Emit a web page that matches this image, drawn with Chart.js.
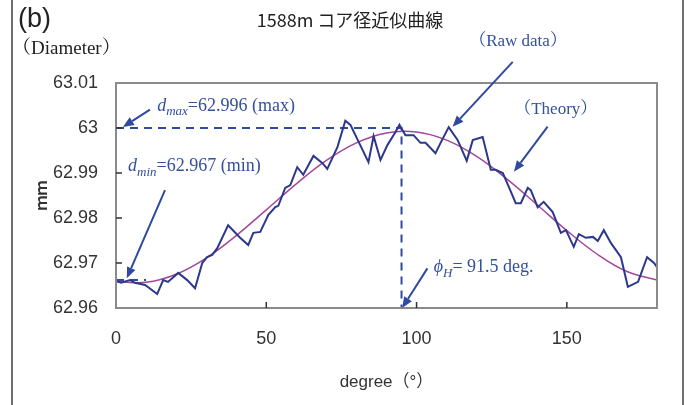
<!DOCTYPE html>
<html>
<head>
<meta charset="utf-8">
<script src="https://cdn.jsdelivr.net/npm/chart.js@4.4.0/dist/chart.umd.min.js"></script>
<style>
  html, body { margin: 0; padding: 0; background: #fff; }
</style>
</head>
<body>
<canvas id="coreChart" width="689" height="405"></canvas>
<script>
const rawDeg = [0, 1.7, 4.7, 6.3, 9.7, 13.7, 15.7, 17.3, 20.7, 23.7, 26.3, 28.7, 30.3, 32, 33.7, 37.3,
  41.3, 44, 45.7, 48, 50.7, 53, 54, 56.3, 58, 60.3, 62.3, 65.7, 68.7, 70.3, 73.7, 76.3, 78, 84, 85.7,
  88, 90.3, 93, 94.3, 96.3, 99, 101.3, 103, 106.3, 108, 110.7, 113.7, 116.7, 118.7, 122, 124.7, 126.3,
  128.7, 130.7, 133, 134.7, 137, 138, 140.3, 142.3, 145.3, 148, 149.7, 152.3, 154, 156.3, 158.7, 160.3,
  162.3, 164.7, 168, 170.3, 173.7, 176.7, 179, 180];
const rawMm = [62.9660, 62.9656, 62.9662, 62.9656, 62.9651, 62.9631, 62.9662, 62.9658, 62.9678, 62.9662,
  62.9644, 62.9700, 62.9713, 62.9718, 62.9733, 62.9784, 62.9756, 62.9740, 62.9767, 62.9769, 62.9807,
  62.9824, 62.9827, 62.9867, 62.9873, 62.9913, 62.9896, 62.9938, 62.9922, 62.9909, 62.9958, 63.0016,
  63.0007, 62.9924, 62.9982, 62.9929, 62.9962, 62.9991, 63.0007, 62.9984, 62.9984, 62.9967, 62.9967,
  62.9944, 62.9967, 63.0002, 62.9973, 62.9927, 62.9973, 62.9980, 62.9907, 62.9907, 62.9900, 62.9869,
  62.9833, 62.9833, 62.9867, 62.9862, 62.9824, 62.9836, 62.9813, 62.9767, 62.9773, 62.9736, 62.9764,
  62.9756, 62.9758, 62.9749, 62.9773, 62.9744, 62.9713, 62.9647, 62.9658, 62.9713, 62.9700, 62.9691];

// approximated (theory) curve, read every 10 degrees
const theoryDeg = [0, 10, 20, 30, 40, 50, 60, 70, 80, 90, 100, 110, 120, 130, 140, 150, 160, 170, 180];
const theoryMm = [62.9659, 62.9657, 62.9675, 62.9711, 62.9761, 62.9818, 62.9876, 62.9928, 62.9967,
  62.9989, 62.9991, 62.9973, 62.9937, 62.9887, 62.9830, 62.9772, 62.9720, 62.9681, 62.9662];

// dashed guide lines
const maxGuideDeg = [0, 95, 95];
const maxGuideMm = [63.0, 63.0, 62.96];
const minGuideDeg = [0, 10];
const minGuideMm = [62.9662, 62.9662];

const xTicks = [0, 50, 100, 150];
const yTicks = [62.96, 62.97, 62.98, 62.99, 63.0, 63.01];

const toPoints = (xs, ys) => xs.map((x, i) => ({ x: x, y: ys[i] }));

// annotation arrows and labels (data coordinates)
const arrows = [
  { from: [11.3, 63.0041], to: [2.3, 63.0002] },
  { from: [16.3, 62.9862], to: [3.6, 62.9666] },
  { from: [103.6, 62.9688], to: [95.2, 62.9600] },
  { from: [132, 63.0147], to: [112, 63.0003] },
  { from: [143.6, 63.0003], to: [132.4, 62.9903] }
];
const notes = [
  { x: 13.7, y: 63.0038, parts: [{ t: 'd', it: true }, { t: 'max', it: true, sub: true }, { t: '=62.996 (max)' }] },
  { x: 4, y: 62.9904, parts: [{ t: 'd', it: true }, { t: 'min', it: true, sub: true }, { t: '=62.967 (min)' }] },
  { x: 105.7, y: 62.9680, parts: [{ t: '\u03d5', it: true }, { t: 'H', it: true, sub: true }, { t: '= 91.5 deg.' }] },
  { x: 117.5, y: 63.0183, size: 17, parts: [{ t: '（Raw data）' }] },
  { x: 132.5, y: 63.0031, size: 17, parts: [{ t: '（Theory）' }] }
];

const blue = '#2f4a9e';
const serif = "'Liberation Serif', 'Noto Serif CJK JP', 'Noto Sans CJK JP', serif";

function drawRich(ctx, x, y, parts, size) {
  parts.forEach(p => {
    const s = p.sub ? Math.round(size * 0.7) : size;
    ctx.font = (p.it ? 'italic ' : '') + s + 'px ' + serif;
    ctx.fillText(p.t, x, y + (p.sub ? size * 0.25 : 0));
    x += ctx.measureText(p.t).width;
  });
}

const decorPlugin = {
  id: 'decor',
  beforeDraw(chart) {
    const ctx = chart.ctx;
    ctx.save();
    ctx.fillStyle = '#fff';
    ctx.fillRect(0, 0, chart.width, chart.height);
    // outer frame lines of the figure
    ctx.strokeStyle = '#6f6f6f';
    ctx.lineWidth = 2;
    ctx.beginPath();
    ctx.moveTo(12, 0); ctx.lineTo(12, chart.height);
    ctx.moveTo(683, 0); ctx.lineTo(683, chart.height);
    ctx.stroke();
    // header texts
    ctx.fillStyle = '#222';
    ctx.textBaseline = 'alphabetic';
    ctx.font = "27px 'Liberation Sans', Arial, sans-serif";
    ctx.fillText('(b)', 18, 27);
    ctx.font = '19px ' + serif;
    ctx.fillText('（Diameter）', 12, 54);
    ctx.textAlign = 'center';
    ctx.font = "18px 'Noto Sans CJK JP', sans-serif";
    ctx.fillText('1588m コア径近似曲線', 350, 27);
    ctx.restore();
  },
  afterDatasetsDraw(chart) {
    const ctx = chart.ctx;
    const a = chart.chartArea;
    const xs = chart.scales.x, ys = chart.scales.y;
    ctx.save();
    // plot frame
    ctx.strokeStyle = '#8a8a8a';
    ctx.lineWidth = 2;
    ctx.strokeRect(a.left, a.top, a.right - a.left, a.bottom - a.top);
    // inner tick marks
    ctx.strokeStyle = '#333';
    ctx.lineWidth = 1.5;
    ctx.beginPath();
    yTicks.slice(1, -1).forEach(v => {
      const py = ys.getPixelForValue(v);
      ctx.moveTo(a.left, py); ctx.lineTo(a.left + 6, py);
    });
    xTicks.slice(1).forEach(v => {
      const px = xs.getPixelForValue(v);
      ctx.moveTo(px, a.bottom); ctx.lineTo(px, a.bottom - 6);
    });
    ctx.stroke();
    // arrows
    ctx.strokeStyle = blue;
    ctx.fillStyle = blue;
    ctx.lineWidth = 2;
    arrows.forEach(ar => {
      const x1 = xs.getPixelForValue(ar.from[0]), y1 = ys.getPixelForValue(ar.from[1]);
      const x2 = xs.getPixelForValue(ar.to[0]), y2 = ys.getPixelForValue(ar.to[1]);
      const ang = Math.atan2(y2 - y1, x2 - x1);
      const hl = 11, hw = 4.5;
      const bx = x2 - hl * Math.cos(ang), by = y2 - hl * Math.sin(ang);
      ctx.beginPath();
      ctx.moveTo(x1, y1); ctx.lineTo(bx, by);
      ctx.stroke();
      ctx.beginPath();
      ctx.moveTo(x2, y2);
      ctx.lineTo(bx + hw * Math.sin(ang), by - hw * Math.cos(ang));
      ctx.lineTo(bx - hw * Math.sin(ang), by + hw * Math.cos(ang));
      ctx.closePath();
      ctx.fill();
    });
    // annotation texts
    ctx.fillStyle = '#34509c';
    ctx.textBaseline = 'alphabetic';
    ctx.textAlign = 'left';
    notes.forEach(n => {
      drawRich(ctx, xs.getPixelForValue(n.x), ys.getPixelForValue(n.y), n.parts, n.size || 18);
    });
    ctx.restore();
  }
};

const tickFont = { family: "'Liberation Sans', Arial, sans-serif", size: 18 };

new Chart(document.getElementById('coreChart').getContext('2d'), {
  type: 'line',
  data: {
    datasets: [
      {
        label: 'Raw data',
        data: toPoints(rawDeg, rawMm),
        borderColor: '#2d388c',
        borderWidth: 2,
        pointRadius: 0,
        tension: 0
      },
      {
        label: 'Theory',
        data: toPoints(theoryDeg, theoryMm),
        borderColor: '#a3479a',
        borderWidth: 1.5,
        pointRadius: 0,
        tension: 0.4
      },
      {
        label: 'max guide',
        data: toPoints(maxGuideDeg, maxGuideMm),
        borderColor: blue,
        borderWidth: 2,
        borderDash: [8, 6],
        pointRadius: 0,
        tension: 0
      },
      {
        label: 'min guide',
        data: toPoints(minGuideDeg, minGuideMm),
        borderColor: blue,
        borderWidth: 2,
        borderDash: [8, 6],
        pointRadius: 0,
        tension: 0
      }
    ]
  },
  options: {
    responsive: false,
    animation: false,
    layout: { padding: { top: 83, right: 32, bottom: 0, left: 0 } },
    plugins: {
      legend: { display: false },
      title: { display: false },
      tooltip: { enabled: false }
    },
    scales: {
      x: {
        type: 'linear',
        min: 0,
        max: 180,
        grid: { display: false },
        border: { display: false },
        afterBuildTicks: s => { s.ticks = xTicks.map(v => ({ value: v })); },
        afterFit: s => { s.height = 97; },
        ticks: { font: tickFont, color: '#333', padding: 12, maxRotation: 0 },
        title: {
          display: true,
          text: 'degree（°）',
          font: { family: "'Liberation Sans', 'Noto Sans CJK JP', sans-serif", size: 17 },
          color: '#333',
          padding: { top: 0, bottom: 12 }
        }
      },
      y: {
        type: 'linear',
        min: 62.96,
        max: 63.01,
        grid: { display: false },
        border: { display: false },
        afterBuildTicks: s => { s.ticks = yTicks.map(v => ({ value: v })); },
        afterFit: s => { s.width = 116; },
        ticks: {
          font: tickFont,
          color: '#333',
          padding: 10,
          callback: v => String(+v.toFixed(2))
        },
        title: {
          display: true,
          text: 'ｍｍ',
          font: { family: "'Noto Sans CJK JP', sans-serif", size: 15, weight: 'bold' },
          color: '#333',
          padding: { top: 32, bottom: 0 }
        }
      }
    }
  },
  plugins: [decorPlugin]
});
</script>
</body>
</html>
